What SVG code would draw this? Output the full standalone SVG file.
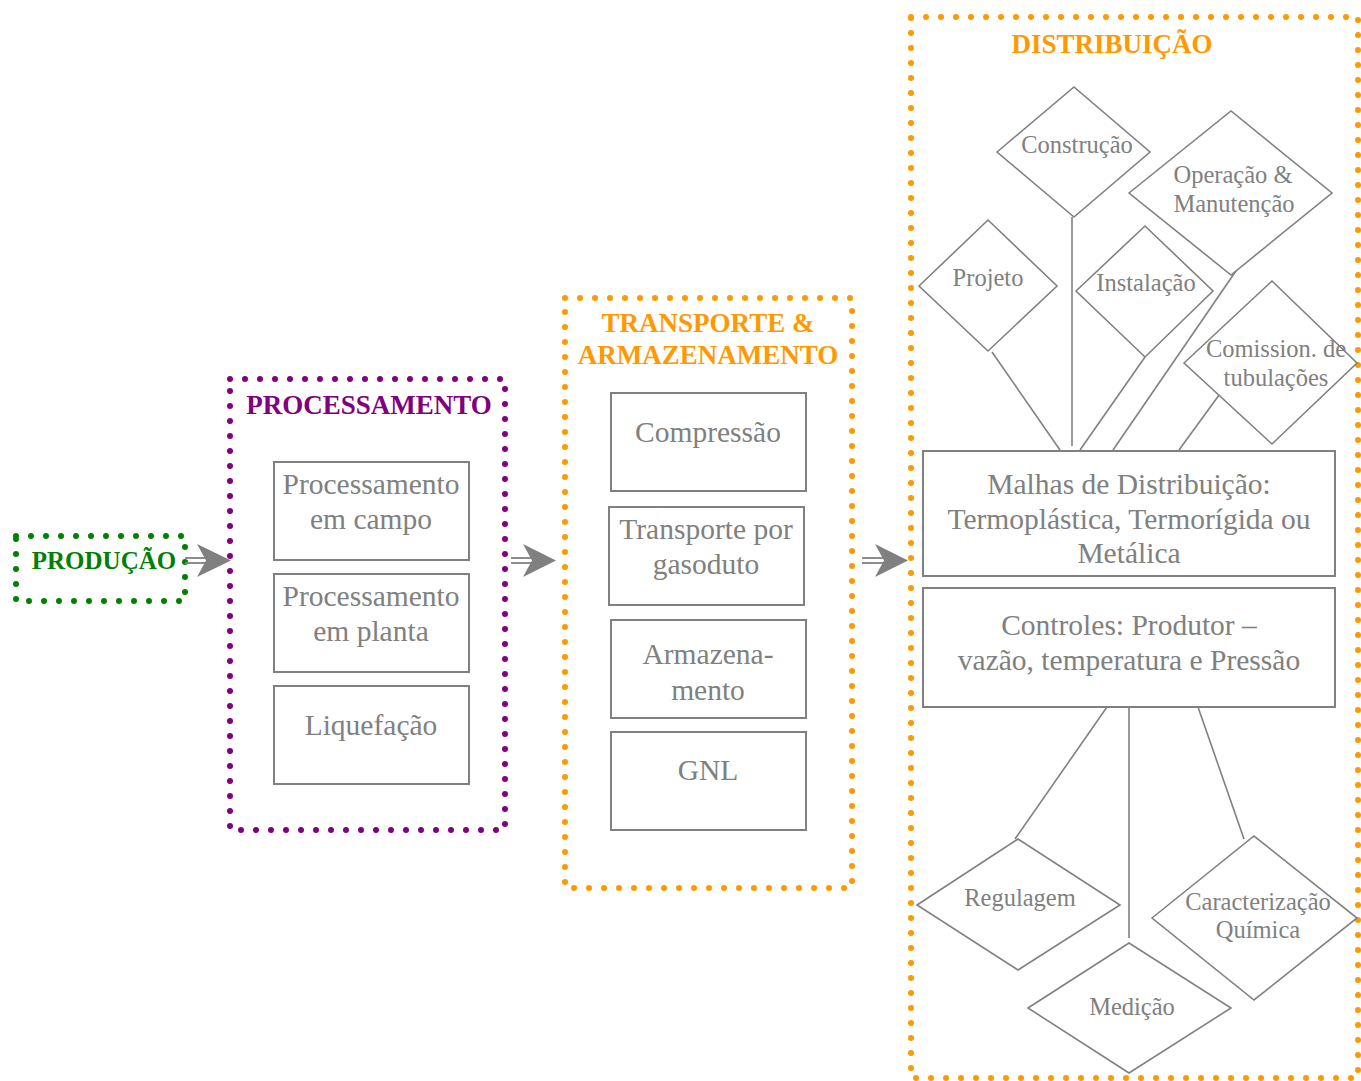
<svg xmlns="http://www.w3.org/2000/svg" width="1361" height="1081" viewBox="0 0 1361 1081">
<style>
.dot{fill:none;stroke-width:6;stroke-dasharray:0 15;stroke-linecap:round}
.green{stroke:#008000}
.purple{stroke:#800080}
.orange{stroke:#FF9900}
.title{font-family:"Liberation Serif","Times New Roman",serif;font-weight:bold;font-size:27px;text-anchor:middle}
.small{font-size:25px}
.box{fill:#fff;stroke:#808080;stroke-width:2}
.dia{fill:#fff;stroke:#808080;stroke-width:1.6}
.bt{font-family:"Liberation Serif","Times New Roman",serif;font-size:29.5px;fill:#808080;text-anchor:middle}
.dt{font-family:"Liberation Serif","Times New Roman",serif;font-size:24.5px;fill:#808080;text-anchor:middle}
.ln{stroke:#808080;stroke-width:1.6;fill:none}
.shaft{stroke:#808080;stroke-width:1.8;fill:none}
.head{fill:#808080}
</style>

<g id="producao">
<rect class="dot green" x="16" y="536" width="169" height="65"/>
<text class="title small" x="104" y="569" fill="#008000">PRODUÇÃO</text>
</g>

<g id="processamento">
<rect class="dot purple" x="230" y="379" width="275" height="451"/>
<text class="title" x="369" y="414" fill="#800080">PROCESSAMENTO</text>
</g>
<g id="proc-campo">
<rect class="box" x="274" y="462" width="195" height="98"/>
<text class="bt" x="371" y="494">Processamento</text>
<text class="bt" x="371" y="529">em campo</text>
</g>
<g id="proc-planta">
<rect class="box" x="274" y="574" width="195" height="98"/>
<text class="bt" x="371" y="606">Processamento</text>
<text class="bt" x="371" y="641">em planta</text>
</g>
<g id="liquefacao">
<rect class="box" x="274" y="686" width="195" height="98"/>
<text class="bt" x="371" y="735">Liquefação</text>
</g>

<g id="transporte">
<rect class="dot orange" x="565" y="298" width="287" height="590"/>
<text class="title" x="708" y="332" fill="#FF9900">TRANSPORTE &amp;</text>
<text class="title" x="708" y="364" fill="#FF9900">ARMAZENAMENTO</text>
</g>
<g id="compressao">
<rect class="box" x="611" y="393" width="195" height="98"/>
<text class="bt" x="708" y="442">Compressão</text>
</g>
<g id="gasoduto">
<rect class="box" x="609" y="507" width="195" height="98"/>
<text class="bt" x="706" y="539">Transporte por</text>
<text class="bt" x="706" y="574">gasoduto</text>
</g>
<g id="armazenamento">
<rect class="box" x="611" y="620" width="195" height="98"/>
<text class="bt" x="708" y="664">Armazena-</text>
<text class="bt" x="708" y="700">mento</text>
</g>
<g id="gnl">
<rect class="box" x="611" y="732" width="195" height="98"/>
<text class="bt" x="708" y="780">GNL</text>
</g>

<g id="distribuicao">
<rect class="dot orange" x="911" y="17" width="447" height="1061"/>
<text class="title" x="1112" y="53" fill="#FF9900">DISTRIBUIÇÃO</text>
</g>

<g id="connectors">
<line class="shaft" x1="185" y1="558" x2="206" y2="558"/>
<line class="shaft" x1="185" y1="563" x2="206" y2="563"/>
<polygon class="head" points="197,544 231,560.5 197,577 206,560.5"/>
<line class="shaft" x1="511" y1="558" x2="533" y2="558"/>
<line class="shaft" x1="511" y1="563" x2="533" y2="563"/>
<polygon class="head" points="523,544 556,560.5 523,577 532,560.5"/>
<line class="shaft" x1="862" y1="558" x2="884" y2="558"/>
<line class="shaft" x1="862" y1="563" x2="884" y2="563"/>
<polygon class="head" points="875,544 908,560.5 875,577 884,560.5"/>

<line class="ln" x1="992" y1="352" x2="1060" y2="450"/>
<line class="ln" x1="1072" y1="217" x2="1072" y2="446"/>
<line class="ln" x1="1145" y1="357" x2="1080" y2="450"/>
<line class="ln" x1="1238" y1="268" x2="1113" y2="450"/>
<line class="ln" x1="1222" y1="391" x2="1179" y2="450"/>
<line class="ln" x1="1107" y1="707" x2="1015" y2="839"/>
<line class="ln" x1="1129" y1="707" x2="1129" y2="938"/>
<line class="ln" x1="1198" y1="707" x2="1244" y2="839"/>
</g>

<g id="construcao">
<polygon class="dia" points="997,152 1074,87 1150,152 1074,217"/>
<text class="dt" x="1077" y="153">Construção</text>
</g>
<g id="operacao">
<polygon class="dia" points="1129,193 1231,111 1332,193 1231,275"/>
<text class="dt" x="1233" y="183">Operação &amp;</text>
<text class="dt" x="1234" y="212">Manutenção</text>
</g>
<g id="projeto">
<polygon class="dia" points="919,286 988,220 1057,286 988,351"/>
<text class="dt" x="988" y="286">Projeto</text>
</g>
<g id="instalacao">
<polygon class="dia" points="1076,291 1145,226 1213,291 1145,357"/>
<text class="dt" x="1146" y="291">Instalação</text>
</g>
<g id="comissionamento">
<polygon class="dia" points="1184,363 1272,281 1357,363 1272,444"/>
<text class="dt" x="1276" y="357">Comission. de</text>
<text class="dt" x="1276" y="386">tubulações</text>
</g>

<g id="malhas">
<rect class="box" x="923" y="451" width="412" height="125"/>
<text class="bt" x="1129" y="494">Malhas de Distribuição:</text>
<text class="bt" x="1129" y="529">Termoplástica, Termorígida ou</text>
<text class="bt" x="1129" y="563">Metálica</text>
</g>
<g id="controles">
<rect class="box" x="923" y="588" width="412" height="119"/>
<text class="bt" x="1129" y="635">Controles: Produtor –</text>
<text class="bt" x="1129" y="670">vazão, temperatura e Pressão</text>
</g>

<g id="regulagem">
<polygon class="dia" points="917,905 1018,839 1120,905 1018,970"/>
<text class="dt" x="1020" y="906">Regulagem</text>
</g>
<g id="medicao">
<polygon class="dia" points="1028,1008 1129,943 1231,1008 1129,1073"/>
<text class="dt" x="1132" y="1015">Medição</text>
</g>
<g id="caracterizacao">
<polygon class="dia" points="1152,918 1254,836 1357,918 1254,1000"/>
<text class="dt" x="1258" y="910">Caracterização</text>
<text class="dt" x="1258" y="938">Química</text>
</g>
</svg>
